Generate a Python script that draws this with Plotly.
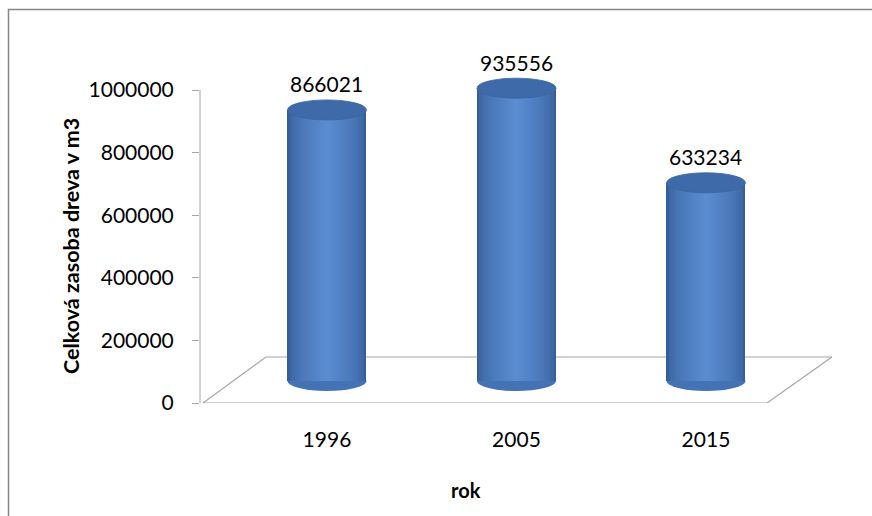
import plotly.graph_objects as go

# ---- data ----
years = ["1996", "2005", "2015"]
values = [866021, 935556, 633234]
label_texts = ["866021", "935556", "633234"]
y_tickvals = [0, 200000, 400000, 600000, 800000, 1000000]
y_ticktext = ["0", "200000", "400000", "600000", "800000", "1000000"]

# ---- layout geometry (pixels) ----
W, H = 872, 516
L, R, T, B = 200, 40, 30, 113
PW, PH = W - L - R, H - T - B
PX_PER_UNIT = 313 / 1000000
X_RANGE = [-0.670, 2.665]
Y_RANGE = [0, PH / PX_PER_UNIT]
DEPTH = 70300  # vertical shift of the bars (3D depth offset), in value units
Y2_RANGE = [Y_RANGE[0] - DEPTH, Y_RANGE[1] - DEPTH]
FONT = "Lato, 'Open Sans', sans-serif"

def px_x(p):
    return (p - L) / PW

def px_y(p):
    return (H - B - p) / PH

xs = list(range(len(years)))

# cylinder body made from overlaid bars for a smooth shading effect
EDGE_RGB = (0x36, 0x5f, 0x9a)
MID_RGB = (0x5a, 0x8c, 0xd1)
BAR_W = 0.417
N_LAYERS = 16
body_layers = []
for i in range(N_LAYERS):
    f = i / (N_LAYERS - 1)
    w = BAR_W * (1 - 0.94 * f)
    t = f ** 0.6
    rgb = tuple(round(e + (m - e) * t) for e, m in zip(EDGE_RGB, MID_RGB))
    body_layers.append((w, "#%02x%02x%02x" % rgb))

fig = go.Figure()
for w, c in body_layers:
    fig.add_trace(go.Bar(
        x=xs, y=values, width=[w] * len(xs), yaxis="y2",
        marker=dict(color=c, line=dict(width=0)),
        showlegend=False, hoverinfo="skip",
    ))

shapes = []
# floor of the 3D plot
shapes.append(dict(
    type="path", xref="x", yref="y", layer="below",
    path="M -0.654 0 L 2.322 0 L 2.665 147000 L -0.322 147000 Z",
    line=dict(color="#a6a6a6", width=1.2), fillcolor="white",
))
# value axis line (from 0 to the top tick)
shapes.append(dict(
    type="line", xref="paper", yref="y", layer="below",
    x0=0, x1=0, y0=y_tickvals[0], y1=y_tickvals[-1],
    line=dict(color="#a6a6a6", width=1),
))
HALF_W = BAR_W / 2
HALF_H = 32000
# bottom caps
for x, v in zip(xs, values):
    shapes.append(dict(
        type="circle", xref="x", yref="y2", layer="below",
        x0=x - HALF_W, x1=x + HALF_W, y0=-HALF_H, y1=HALF_H,
        fillcolor="#4373b4", line=dict(width=0),
    ))
# top caps
for x, v in zip(xs, values):
    shapes.append(dict(
        type="circle", xref="x", yref="y2", layer="above",
        x0=x - HALF_W, x1=x + HALF_W, y0=v - HALF_H, y1=v + HALF_H,
        fillcolor="#3e6aa9", line=dict(color="#3a64a0", width=0.8),
    ))
# outer chart frame (left and top edges)
shapes.append(dict(
    type="path", xref="paper", yref="paper", layer="above",
    path=f"M {px_x(8.5)} {px_y(520)} L {px_x(8.5)} {px_y(9.5)} L {px_x(880)} {px_y(9.5)}",
    line=dict(color="#868686", width=1.5),
))

annotations = []
for x, v, t in zip(xs, values, label_texts):
    annotations.append(dict(
        x=x, y=v, xref="x", yref="y2", text=t, showarrow=False,
        yshift=26, yanchor="middle", font=dict(family=FONT, size=21, color="black"),
    ))
annotations.append(dict(
    x=px_x(71), y=px_y(246), xref="paper", yref="paper",
    text="<b>Celková zasoba dreva v m3</b>", textangle=-90, showarrow=False,
    xanchor="center", yanchor="middle", font=dict(family=FONT, size=21.5, color="black"),
))
annotations.append(dict(
    x=px_x(466), y=px_y(490), xref="paper", yref="paper",
    text="<b>rok</b>", showarrow=False,
    xanchor="center", yanchor="middle", font=dict(family=FONT, size=20, color="black"),
))

fig.update_layout(
    width=W, height=H,
    margin=dict(l=L, r=R, t=T, b=B, pad=0),
    paper_bgcolor="white", plot_bgcolor="white",
    barmode="overlay", bargap=0,
    showlegend=False,
    font=dict(family=FONT, size=21, color="black"),
    xaxis=dict(
        range=X_RANGE, tickmode="array", tickvals=xs, ticktext=years,
        showline=False, showgrid=False, zeroline=False, ticks="",
        ticklabelstandoff=22, tickfont=dict(family=FONT, size=21, color="black"),
    ),
    yaxis=dict(
        range=Y_RANGE, tickmode="array", tickvals=y_tickvals, ticktext=y_ticktext,
        showline=False,
        ticks="outside", ticklen=7, tickcolor="#a6a6a6", tickwidth=1,
        showgrid=False, zeroline=False, ticklabelstandoff=14,
        tickfont=dict(family=FONT, size=21, color="black"),
    ),
    yaxis2=dict(
        range=Y2_RANGE, overlaying="y", visible=False,
    ),
    shapes=shapes,
    annotations=annotations,
)

fig.write_html("out.html")
